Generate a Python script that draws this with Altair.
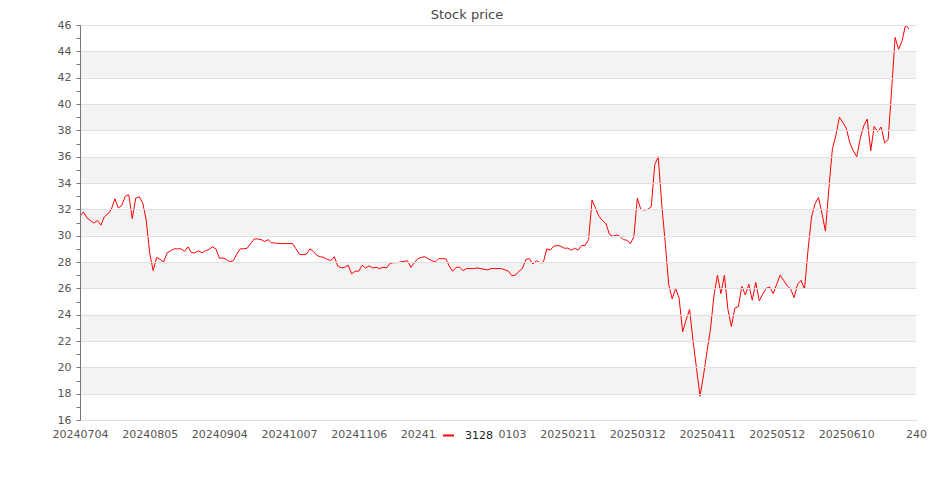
import altair as alt
import pandas as pd

# ---- data ----
SERIES = "3128"
PRICES = [
    31.5, 31.8, 31.35, 31.15, 30.95, 31.15, 30.8, 31.45, 31.65, 32.0,
    32.8, 32.1, 32.3, 33.0, 33.1, 31.3, 32.85, 32.95, 32.5, 31.2,
    28.7, 27.35, 28.35, 28.2, 28.0, 28.7, 28.85, 29.0, 29.0, 29.0,
    28.8, 29.15, 28.7, 28.7, 28.85, 28.7, 28.85, 28.95, 29.15, 29.0,
    28.3, 28.3, 28.2, 28.0, 28.1, 28.6, 29.0, 29.0, 29.05, 29.4,
    29.75, 29.75, 29.7, 29.55, 29.7, 29.45, 29.45, 29.4, 29.4, 29.4,
    29.4, 29.4, 29.0, 28.6, 28.55, 28.6, 29.0, 28.8, 28.5, 28.4,
    28.35, 28.2, 28.1, 28.4, 27.7, 27.55, 27.6, 27.75, 27.1, 27.3,
    27.3, 27.75, 27.55, 27.7, 27.55, 27.6, 27.5, 27.6, 27.55, 27.9,
    27.95, 27.95, 28.0, 28.05, 28.1, 27.6, 27.95, 28.25, 28.35, 28.4,
    28.25, 28.1, 28.0, 28.25, 28.25, 28.25, 27.7, 27.3, 27.6, 27.6,
    27.35, 27.5, 27.5, 27.5, 27.55, 27.5, 27.45, 27.4, 27.5, 27.5,
    27.5, 27.5, 27.4, 27.3, 26.95, 27.0, 27.3, 27.5, 28.2, 28.25,
    27.85, 28.1, 27.95, 27.95, 29.0, 28.9, 29.2, 29.25, 29.2, 29.05,
    29.05, 28.9, 29.05, 28.9, 29.25, 29.25, 29.7, 32.7, 32.1, 31.45,
    31.15, 30.9, 30.1, 29.95, 30.05, 29.95, 29.7, 29.65, 29.4, 29.9,
    32.85, 32.0, 31.95, 32.0, 32.2, 35.4, 36.0, 32.4, 29.5, 26.3,
    25.2, 26.0, 25.25, 22.7, 23.6, 24.4, 22.0, 19.9, 17.8, 19.4,
    21.2, 22.9, 25.45, 27.0, 25.6, 27.0, 24.4, 23.1, 24.5, 24.6,
    26.15, 25.5, 26.3, 25.1, 26.45, 25.05, 25.55, 26.0, 26.1, 25.6,
    26.3, 27.0, 26.6, 26.2, 25.95, 25.3, 26.3, 26.6, 25.95, 28.9,
    31.4, 32.4, 32.9, 31.7, 30.35, 33.6, 36.6, 37.6, 39.0, 38.6,
    38.15, 37.05, 36.45, 36.0, 37.4, 38.35, 38.85, 36.45, 38.3, 37.9,
    38.25, 37.05, 37.3, 41.05, 45.05, 44.15, 44.8, 46.0, 45.7,
]
X_TICK_POS = [0, 20, 40, 60, 80, 100, 120, 140, 160, 180, 200, 220, 240]
X_TICK_LABELS = [
    "20240704", "20240805", "20240904", "20241007", "20241106", "20241204",
    "20250103", "20250211", "20250312", "20250411", "20250512", "20250610", "240",
]
Y_MIN, Y_MAX = 16, 46
Y_TICKS = list(range(16, 47))
BAND_LOW = [18, 22, 26, 30, 34, 38, 42]
BAND_HIGH = [20, 24, 28, 32, 36, 40, 44]

df = pd.DataFrame({"idx": list(range(len(PRICES))), "price": PRICES, "series": SERIES})
bands = pd.DataFrame({"lo": BAND_LOW, "hi": BAND_HIGH})

FONT = "DejaVu Sans"
label_arr = "[" + ",".join('"%s"' % s for s in X_TICK_LABELS) + "]"

x_scale = alt.Scale(domain=[X_TICK_POS[0], X_TICK_POS[-1]], nice=False, zero=False)
y_scale = alt.Scale(domain=[Y_MIN, Y_MAX], nice=False, zero=False)

x_axis = alt.Axis(
    values=X_TICK_POS,
    labelExpr=label_arr + "[round(datum.value / 20)]",
    title=None, grid=False, ticks=False, labelPadding=8,
    labelFont=FONT, labelFontSize=11, labelColor="#555",
    labelFlush=False, labelOverlap=False,
    domainColor="#777", domainWidth=1,
)
y_axis = alt.Axis(
    values=Y_TICKS,
    labelExpr="datum.value % 2 == 0 ? datum.label : ''",
    title=None, grid=True, gridColor="#e0e0e0", gridWidth=1,
    gridOpacity={"condition": {"test": "datum.value % 2 == 1", "value": 0}, "value": 1},
    tickSize=4, tickColor="#777", labelPadding=5,
    labelFont=FONT, labelFontSize=11, labelColor="#555",
    domainColor="#777", domainWidth=1, zindex=1,
)

band_layer = alt.Chart(bands).mark_rect(color="#f3f3f3").encode(
    y=alt.Y("lo:Q", scale=y_scale, axis=y_axis),
    y2="hi:Q",
)

line_layer = alt.Chart(df).mark_line(strokeWidth=1).encode(
    x=alt.X("idx:Q", scale=x_scale, axis=x_axis),
    y=alt.Y("price:Q", scale=y_scale, axis=y_axis),
    color=alt.Color(
        "series:N",
        scale=alt.Scale(domain=[SERIES], range=["#ff0000"]),
        legend=alt.Legend(
            title=None, orient="none", legendX=357, legendY=399,
            symbolType="stroke", symbolStrokeWidth=2, symbolSize=121,
            labelFont=FONT, labelFontSize=11, labelColor="#222",
            labelOffset=10, fillColor="white", padding=5,
        ),
    ),
)

chart = alt.layer(band_layer, line_layer).properties(
    width=836, height=395,
    padding={"left": 72, "top": 17, "right": 11, "bottom": 60},
    autosize=alt.AutoSizeParams(type="none"),
    title=alt.TitleParams("Stock price", font=FONT, fontSize=13, fontWeight="normal",
                          color="#464646", anchor="middle", offset=-3, dx=-31),
).configure_view(stroke=None)

chart.save("out.html", embed_options={"renderer": "svg", "actions": False})
